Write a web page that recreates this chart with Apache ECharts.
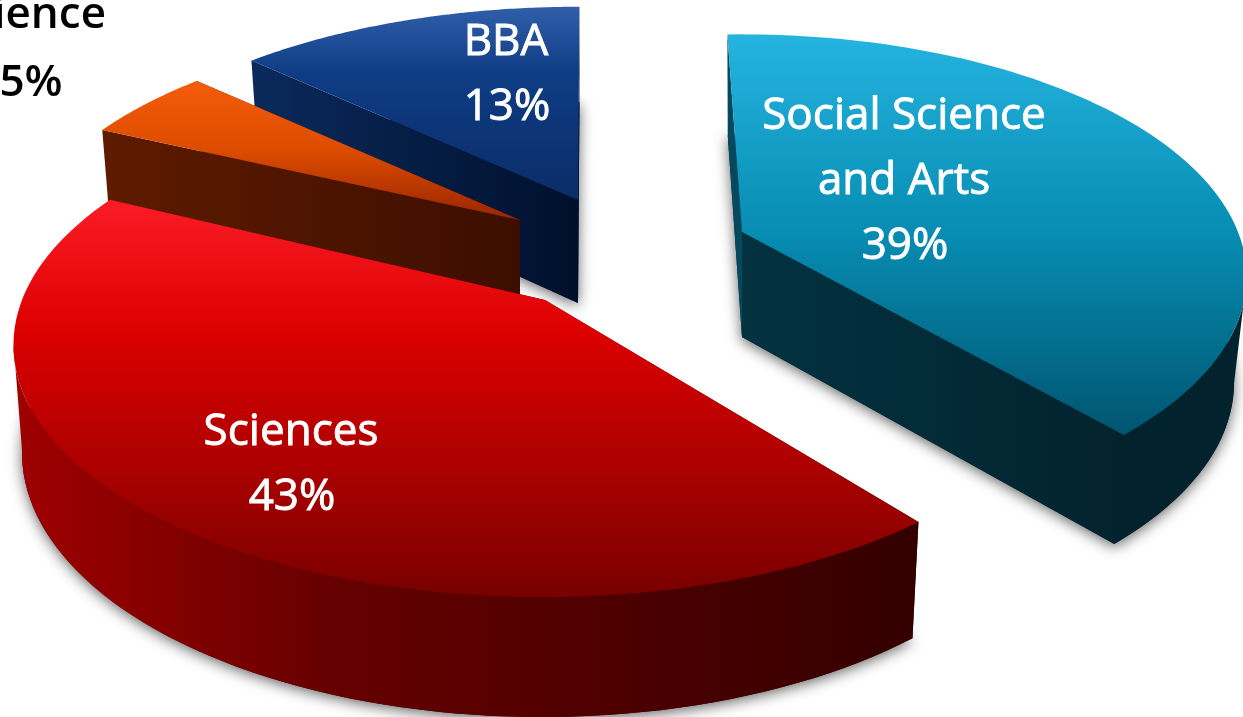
<!DOCTYPE html>
<html>
<head>
<meta charset="utf-8">
<style>html,body{margin:0;padding:0;background:#fff;overflow:hidden}#c{width:1243px;height:717px}</style>
<script src="https://cdn.jsdelivr.net/npm/echarts@6/dist/echarts.min.js"></script>
</head>
<body>
<div id="c"></div>
<script>
// data (clockwise round the pie)
var categories = ['Sciences', 'Computer Science', 'BBA', 'Social Science and Arts'];
var percentValues = [43, 5, 13, 39];
var visibleLabelLines = [['Sciences'], ['ience'], ['BBA'], ['Social Science', 'and Arts']];

// style and layout of the exploded perspective slices
var startAngle = 141.8;
var drawOrder = [2, 1, 3, 0];
var sliceLayouts = [
  {ax:545, ay:300, A:520, B:244, p:.179, off:-3, nudge:-.3, depth:105, sx:.984, sy:1.05, top:[[0,'#fb1c26'],[.33,'#dc0000'],[.7,'#a80000'],[1,'#780000']],
   outer:[[0,'#a00000'],[.35,'#660000'],[1,'#330000']], startWall:['#500000','#300000'], endWall:['#500000','#300000'],
   text:{x:291,y:432,align:'center',color:'#fff'}},
  {ax:520, ay:220, A:496, B:229, p:.18, off:0, nudge:-1.6, depth:80, sx:.985, sy:1.04, top:[[0,'#f55c0a'],[.5,'#dc4c00'],[1,'#9a2400']],
   outer:[[0,'#5e1a00'],[1,'#3e0e00']], startWall:['#5e1b00','#3d0e00'], endWall:['#5e1a00','#3e0e00'],
   text:{x:106,y:15,align:'right',color:'#000',weight:600,pctX:31,pctY:83}},
  {ax:578, ay:200, A:505, B:228, p:.18, off:0, nudge:-1.2, depth:103, sx:.98, sy:1.04, top:[[0,'#305ea9'],[.35,'#0e3c84'],[1,'#0b2c68']],
   outer:[[0,'#0b2c60'],[1,'#00102c']], startWall:['#0a2a5c','#00102c'], endWall:['#00112e','#00102c'],
   text:{x:506,y:42,align:'center',color:'#fff'}},
  {ax:742, ay:232, A:496, B:234, p:.184, off:0, nudge:-3.4, depth:105, sx:.975, sy:1.02, top:[[0,'#24b4df'],[.5,'#078cb2'],[1,'#005570']],
   outer:[[0,'#02232e'],[1,'#02232e']], startWall:['#06485e','#06485e'], endWall:['#033241','#02232e'],
   text:{x:904,y:116,align:'center',color:'#fff'}}
];
var arcSteps = 90, frontRimFrom = 40;
var fontFamily = '"Open Sans","Noto Sans",sans-serif', fontSize = 44, lineGap = 65;

function rim(l, deg) {
  var t = deg * Math.PI / 180, w = 1 + l.p * Math.cos(t);
  return [l.A * Math.sin(t) / w + l.off, -l.B * Math.cos(t) / w];
}
function topPt(l, d) { return [l.ax + d[0], l.ay + d[1]]; }
function botPt(l, d) { return [l.ax + d[0] * l.sx, l.ay + d[1] * l.sy + l.depth]; }
function grad(horizontal, stops) {
  return new echarts.graphic.LinearGradient(0, 0, horizontal ? 1 : 0, horizontal ? 0 : 1,
    stops.map(function (s) { return {offset: s[0], color: s[1]}; }));
}
function pair(c) { return [[0, c[0]], [1, c[1]]]; }

var seriesData = drawOrder.map(function (i) {
  return {name: categories[i], value: percentValues[i]};
});

function renderItem(params) {
  var i = drawOrder[params.dataIndex], l = sliceLayouts[i];
  var total = percentValues.reduce(function (a, b) { return a + b; }, 0), before = 0;
  for (var k = 0; k < i; k++) before += percentValues[k];
  var a0 = startAngle + before / total * 360 + l.nudge;
  var span = percentValues[i] / total * 360;
  var rimPts = [];
  for (var s = 0; s <= arcSteps; s++) rimPts.push(rim(l, a0 + span * s / arcSteps));
  var topArc = rimPts.map(function (d) { return topPt(l, d); });
  var botArc = rimPts.map(function (d) { return botPt(l, d); });
  var apexT = [l.ax, l.ay], apexB = botPt(l, [0, 0]);
  var kids = [];
  kids.push({type: 'polygon', shape: {points: [apexB].concat(botArc)},
    style: {fill: l.outer[l.outer.length - 1][1], shadowBlur: 14, shadowColor: 'rgba(0,0,0,.6)', shadowOffsetY: 3}});
  var startW = {type: 'polygon', shape: {points: [apexT, topArc[0], botArc[0], apexB]}, style: {fill: grad(true, pair(l.startWall))}};
  var endW = {type: 'polygon', shape: {points: [apexT, topArc[arcSteps], botArc[arcSteps], apexB]}, style: {fill: grad(true, pair(l.endWall))}};
  // the wall whose outer corner is further back is painted first
  if (rimPts[0][1] < rimPts[arcSteps][1]) kids.push(startW, endW); else kids.push(endW, startW);
  // only the part of the rim wall that faces the viewer
  var frontTop = [], frontBot = [];
  rimPts.forEach(function (d, n) { if (d[1] >= frontRimFrom) { frontTop.push(topArc[n]); frontBot.push(botArc[n]); } });
  if (frontTop.length > 1) {
    kids.push({type: 'polygon', shape: {points: frontTop.concat(frontBot.reverse())}, style: {fill: grad(true, l.outer)}});
  }
  kids.push({type: 'polygon', shape: {points: [apexT].concat(topArc)}, style: {fill: grad(false, l.top)}});
  var t = l.text, lines = visibleLabelLines[i];
  var base = {font: (t.weight || 400) + ' ' + fontSize + 'px ' + fontFamily, fill: t.color, verticalAlign: 'middle',
    stroke: t.color === '#fff' ? '#fff' : null, lineWidth: t.color === '#fff' ? .9 : 0};
  lines.forEach(function (line, n) {
    kids.push({type: 'text', z2: 100, style: Object.assign({}, base, {text: line, x: t.x, y: t.y + n * lineGap, align: t.align})});
  });
  kids.push({type: 'text', z2: 100, style: Object.assign({}, base, {
    text: percentValues[i] + '%',
    x: t.pctX != null ? t.pctX : t.x + 1,
    y: t.pctY != null ? t.pctY : t.y + lines.length * lineGap,
    align: 'center'})});
  return {type: 'group', children: kids};
}

var chart = echarts.init(document.getElementById('c'), null, {renderer: 'canvas', width: 1243, height: 717});
chart.setOption({
  animation: false,
  backgroundColor: '#fff',
  series: [{type: 'custom', coordinateSystem: 'none', silent: true, clip: false, renderItem: renderItem, data: seriesData}]
});
</script>
</body>
</html>
